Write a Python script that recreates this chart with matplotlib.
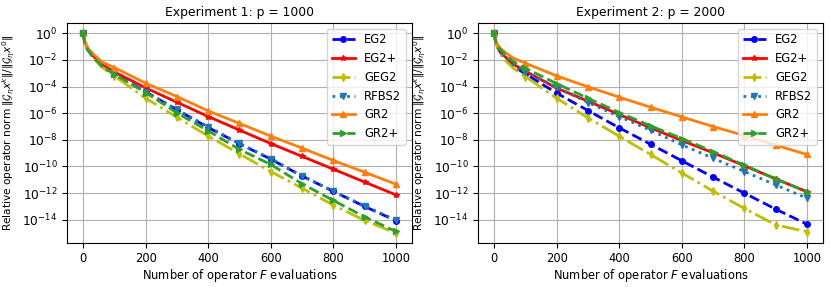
import numpy as np
import matplotlib
matplotlib.use("Agg")
import matplotlib.pyplot as plt

# evaluation counts where values were read (log10 of relative norm)
evals = [0, 5, 15, 30, 60, 100, 200, 300, 400, 500, 600, 700, 800, 900, 1000]

# Experiment 1: p = 1000
exp1_eg2 = [0, -0.7, -1.25, -1.7, -2.45, -3.05, -4.4, -5.75, -7.08, -8.3, -9.45, -10.72, -11.87, -13.0, -14.07]
exp1_eg2p = [0, -0.65, -1.2, -1.65, -2.35, -2.9, -4.1, -5.18, -6.25, -7.27, -8.28, -9.24, -10.2, -11.17, -12.13]
exp1_geg2 = [0, -0.72, -1.3, -1.8, -2.55, -3.2, -4.88, -6.3, -7.72, -9.05, -10.38, -11.63, -12.9, -14.05, -15.0]
exp1_rfbs2 = [0, -0.7, -1.25, -1.7, -2.45, -3.05, -4.38, -5.72, -7.02, -8.27, -9.42, -10.7, -11.85, -12.95, -14.02]
exp1_gr2 = [0, -0.6, -1.1, -1.5, -2.15, -2.58, -3.75, -4.75, -5.83, -6.77, -7.72, -8.62, -9.55, -10.43, -11.33]
exp1_gr2p = [0, -0.7, -1.25, -1.72, -2.48, -3.08, -4.45, -5.98, -7.33, -8.72, -9.85, -11.3, -12.55, -13.78, -14.88]

# Experiment 2: p = 2000
exp2_eg2 = [0, -0.7, -1.25, -1.75, -2.45, -3.05, -4.5, -5.8, -7.1, -8.33, -9.57, -10.8, -12.0, -13.2, -14.33]
exp2_eg2p = [0, -0.65, -1.2, -1.65, -2.3, -2.85, -4.12, -5.1, -6.1, -7.1, -8.05, -8.97, -9.95, -10.93, -11.9]
exp2_geg2 = [0, -0.72, -1.35, -1.9, -2.6, -3.25, -4.88, -6.35, -7.73, -9.1, -10.48, -11.85, -13.15, -14.38, -14.9]
exp2_rfbs2 = [0, -0.65, -1.2, -1.65, -2.3, -2.9, -4.05, -5.2, -6.25, -7.28, -8.37, -9.38, -10.38, -11.38, -12.38]
exp2_gr2 = [0, -0.6, -1.0, -1.35, -1.85, -2.25, -3.2, -4.02, -4.8, -5.55, -6.28, -7.0, -7.68, -8.4, -9.1]
exp2_gr2p = [0, -0.62, -1.1, -1.5, -2.1, -2.63, -3.78, -4.88, -5.95, -6.95, -7.9, -8.88, -9.9, -10.93, -11.88]

names = ["EG2", "EG2+", "GEG2", "RFBS2", "GR2", "GR2+"]
titles = ["Experiment 1: p = 1000", "Experiment 2: p = 2000"]

styles = [
    dict(color="b", ls="--", marker="o"),
    dict(color="r", ls="-", marker="*"),
    dict(color="y", ls="-.", marker="d"),
    dict(color="tab:blue", ls=":", marker="v"),
    dict(color="tab:orange", ls="-", marker="^"),
    dict(color="tab:green", ls="--", marker=">"),
]

plt.rcParams["font.size"] = 8.3

fig = plt.figure(figsize=(8.3, 2.87), dpi=100)
ax1 = fig.add_axes([0.0813, 0.1544, 0.4145, 0.7655])
ax2 = fig.add_axes([0.5765, 0.1544, 0.4145, 0.7655])

experiments = [
    [exp1_eg2, exp1_eg2p, exp1_geg2, exp1_rfbs2, exp1_gr2, exp1_gr2p],
    [exp2_eg2, exp2_eg2p, exp2_geg2, exp2_rfbs2, exp2_gr2, exp2_gr2p],
]

marks = [0] + list(range(5, len(evals)))

for ax, series, title in zip([ax1, ax2], experiments, titles):
    for name, vals, st in zip(names, series, styles):
        ax.semilogy(evals, 10.0 ** np.array(vals), label=name, lw=2,
                    markersize=4, markevery=marks, **st)
    ax.set_title(title, fontsize=8.9, pad=5)
    ax.set_xlabel("Number of operator $F$ evaluations", labelpad=1)
    ax.set_ylabel(r"Relative operator norm $\|\mathcal{G}_\eta x^k\|/\|\mathcal{G}_\eta x^0\|$",
                  fontsize=7.6)
    ax.set_xlim(-50, 1050)
    ax.set_ylim(10 ** -15.72, 10 ** 0.77)
    ax.set_yticks([10.0 ** k for k in range(0, -15, -2)])
    ax.tick_params(axis="y", labelsize=8.8)
    ax.minorticks_off()
    ax.grid(True)
    ax.legend(loc="upper right")

fig.savefig("out.png", dpi=100)
